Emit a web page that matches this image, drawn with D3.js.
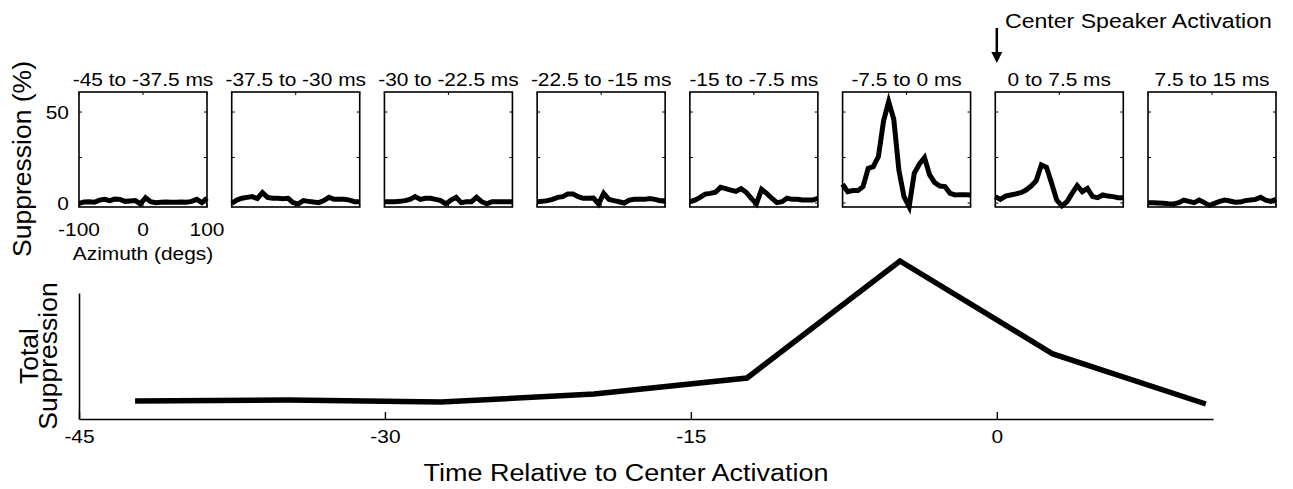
<!DOCTYPE html>
<html>
<head>
<meta charset="utf-8">
<script src="https://cdn.jsdelivr.net/npm/d3@7"></script>
<style>
  body { margin: 0; background: #fff; }
  text { font-family: "Liberation Sans", Arial, Helvetica, sans-serif; fill: #000; }
</style>
</head>
<body>
<div id="chart"></div>
<script>
// Time windows (one small panel each)
var windowLabels = ['-45 to -37.5 ms', '-37.5 to -30 ms', '-30 to -22.5 ms', '-22.5 to -15 ms',
                    '-15 to -7.5 ms', '-7.5 to 0 ms', '0 to 7.5 ms', '7.5 to 15 ms'];

// Azimuth samples (degs)
var azimuths = [-100, -92, -84, -76, -68, -60, -52, -44, -36, -28, -20, -12, -4,
                4, 12, 20, 28, 36, 44, 52, 60, 68, 76, 84, 92, 100];

// Suppression (%) per panel
var supp_45 = [-0.2, 0.5, 0.7, 0.4, 1.6, 2, 1.3, 2.2, 2, 0.9, 1.1, 1.3, -0.5,
               2.9, 0.7, 0.2, 0.4, 0.5, 0.4, 0.4, 0.5, 0.4, 0.9, 2, 0.2, 2.7];
var supp_37 = [-0.2, 1.6, 2.6, 3.1, 3.5, 2.4, 5.7, 3.1, 2.6, 2.6, 2.4, 2.6, 0.2,
               -0.5, 1.3, 0.9, 0.5, 0.2, 1.3, 3.1, 2, 2, 2, 1.6, 0.7, 0.7];
var supp_30 = [0.7, 0.7, 0.7, 0.9, 1.3, 2, 3.5, 2, 2.6, 2.6, 2, 1.3, -0.5,
               1.6, 3.1, 0.2, 0.7, 0.7, 3.1, 0.7, -0.5, 0.7, 0.7, 0.7, 0.7, 0.7];
var supp_22 = [0.7, 0.9, 1.3, 2, 3.1, 3.5, 5, 5, 3.5, 2.6, 2.6, 2.7, -0.5,
               5.3, 2, 1.3, 0.7, 0, 1.6, 2, 2, 2, 2.4, 2, 1.3, 1.3];
var supp_15 = [0.7, 1.6, 3.1, 4.9, 5.3, 5.9, 8.6, 7.9, 7.1, 6.4, 7.9, 5.9, 2.5,
               -0.5, 7.5, 5.3, 2.6, 0.2, 0.7, 2.6, 2, 2, 1.6, 1.6, 1.6, 2.6];
var supp_7 = [10.4, 6.2, 6.8, 6.8, 9, 19, 20, 25.5, 45, 55.7, 46, 18, 3.5,
              -2, 16.3, 21.4, 25, 15.4, 11.2, 9.3, 9, 5.3, 4.4, 4.6, 4.6, 4.4];
var supp0 = [3.5, 2, 3.8, 4.4, 5, 5.7, 7.1, 9.3, 12.3, 20.9, 19.6, 10.8, 1.6,
             -1.6, 0.7, 5.3, 9.5, 6.2, 8, 3.5, 2.9, 4.4, 3.8, 3.5, 2.9, 2.9];
var supp7 = [0.2, 0.2, 0, -0.2, -0.4, -0.5, 0.2, 1.6, 0.9, 0.2, 1.6, 0.2, -1.3,
             -0.2, 0.9, 1.6, 1.1, 0.4, 0.5, 1.3, 1.6, 2, 3.1, 1.6, 0.9, 2];
var panelValues = [supp_45, supp_37, supp_30, supp_22, supp_15, supp_7, supp0, supp7];

// Total suppression over time (arbitrary units)
var timePoints = [-42.25, -34.75, -27.25, -19.75, -12.25, -4.75, 2.75, 10.25];
var totalSuppression = [14.3, 15.1, 13.5, 19.8, 32.5, 125.4, 51.6, 11.9];

// Ticks
var timeTicks = [-45, -30, -15, 0];
var azimuthTicks = [-100, 0, 100];
var suppressionTicks = [0, 25, 50];
var suppressionLabels = [0, 50];

var width = 1293, height = 489;
var stretch = 'scale(1.1,1)';

var svg = d3.select('#chart').append('svg')
    .attr('width', width)
    .attr('height', height);

// ---- small panels ----
var panelW = 128, panelTop = 92, panelBottom = 207;

var panelX = d3.scalePoint()
    .domain(windowLabels)
    .range([79, 1148]);

var azX = d3.scaleLinear().domain([-100, 100]).range([0, panelW]);
var suppY = d3.scaleLinear().domain([-2.2, 61]).range([panelBottom, panelTop]);

var panelLine = d3.line()
    .x(d => azX(d[0]))
    .y(d => suppY(d[1]));

var panels = svg.selectAll('g.panel')
    .data(windowLabels)
    .enter()
    .append('g')
    .attr('class', 'panel')
    .attr('transform', d => 'translate(' + panelX(d) + ',0)');

panels.append('rect')
    .attr('x', 0)
    .attr('y', panelTop)
    .attr('width', panelW)
    .attr('height', panelBottom - panelTop)
    .attr('fill', 'none')
    .attr('stroke', 'black')
    .attr('stroke-width', 1.6);

// inward tick marks on all four sides
panels.each(function() {
    var g = d3.select(this);
    suppressionTicks.forEach(function(t) {
        g.append('line').attr('x1', 0).attr('x2', 3).attr('y1', suppY(t)).attr('y2', suppY(t))
            .attr('stroke', 'black').attr('stroke-width', 1);
        g.append('line').attr('x1', panelW - 3).attr('x2', panelW).attr('y1', suppY(t)).attr('y2', suppY(t))
            .attr('stroke', 'black').attr('stroke-width', 1);
    });
    azimuthTicks.forEach(function(t) {
        g.append('line').attr('x1', azX(t)).attr('x2', azX(t)).attr('y1', panelTop).attr('y2', panelTop + 3)
            .attr('stroke', 'black').attr('stroke-width', 1);
        g.append('line').attr('x1', azX(t)).attr('x2', azX(t)).attr('y1', panelBottom - 3).attr('y2', panelBottom)
            .attr('stroke', 'black').attr('stroke-width', 1);
    });
});

panels.append('path')
    .datum((d, i) => azimuths.map((a, j) => [a, panelValues[i][j]]))
    .attr('d', panelLine)
    .attr('fill', 'none')
    .attr('stroke', 'black')
    .attr('stroke-width', 5)
    .attr('stroke-linejoin', 'miter');

panels.append('text')
    .attr('transform', 'translate(' + panelW / 2 + ',86) ' + stretch)
    .attr('text-anchor', 'middle')
    .style('font-size', '19px')
    .text(d => d);

// tick labels on the first panel only
var first = panels.filter((d, i) => i === 0);
first.selectAll('text.ylab')
    .data(suppressionLabels)
    .enter()
    .append('text')
    .attr('class', 'ylab')
    .attr('transform', d => 'translate(-10,' + suppY(d) + ') ' + stretch)
    .attr('text-anchor', 'end')
    .attr('dy', '0.36em')
    .style('font-size', '19px')
    .text(d => d);

first.selectAll('text.xlab')
    .data(azimuthTicks)
    .enter()
    .append('text')
    .attr('class', 'xlab')
    .attr('transform', d => 'translate(' + azX(d) + ',236) ' + stretch)
    .attr('text-anchor', 'middle')
    .style('font-size', '19px')
    .text(d => d);

first.append('text')
    .attr('transform', 'translate(' + panelW / 2 + ',260) ' + stretch)
    .attr('text-anchor', 'middle')
    .style('font-size', '19px')
    .text('Azimuth (degs)');

svg.append('text')
    .attr('transform', 'translate(31,159) rotate(-90)')
    .attr('text-anchor', 'middle')
    .style('font-size', '26.5px')
    .text('Suppression (%)');

// ---- total suppression over time ----
var tX = d3.scaleLinear().domain([-45, 10.6]).range([79, 1213]);
var tY = d3.scaleLinear().domain([0, 100]).range([419, 293]);

var xAxis = svg.append('g')
    .attr('transform', 'translate(0,' + tY(0) + ')')
    .call(d3.axisBottom(tX).tickValues(timeTicks).tickFormat(d => String(d))
        .tickSizeInner(-7).tickSizeOuter(0).tickPadding(11));
xAxis.select('.domain').attr('stroke-width', 1.6);
xAxis.selectAll('.tick line').attr('stroke-width', 1.4);
xAxis.selectAll('.tick text')
    .attr('transform', stretch)
    .style('font-size', '19px')
    .style('font-family', '"Liberation Sans", Arial, sans-serif');

var yAxis = svg.append('g')
    .attr('transform', 'translate(' + tX(-45) + ',0)')
    .call(d3.axisLeft(tY).tickValues([]).tickSizeOuter(0));
yAxis.select('.domain').attr('stroke-width', 1.6);

var totalLine = d3.line()
    .x(d => tX(d[0]))
    .y(d => tY(d[1]));

svg.append('path')
    .datum(timePoints.map((t, i) => [t, totalSuppression[i]]))
    .attr('d', totalLine)
    .attr('fill', 'none')
    .attr('stroke', 'black')
    .attr('stroke-width', 5.5);

svg.append('text')
    .attr('transform', 'translate(626,481) ' + stretch)
    .attr('text-anchor', 'middle')
    .style('font-size', '24.5px')
    .text('Time Relative to Center Activation');

svg.append('text')
    .attr('transform', 'translate(38,356) rotate(-90)')
    .attr('text-anchor', 'middle')
    .style('font-size', '26.5px')
    .text('Total');
svg.append('text')
    .attr('transform', 'translate(57,356) rotate(-90)')
    .attr('text-anchor', 'middle')
    .style('font-size', '26.5px')
    .text('Suppression');

// ---- center speaker marker ----
var ax = tX(0);
svg.append('line')
    .attr('x1', ax).attr('x2', ax)
    .attr('y1', 28).attr('y2', 54)
    .attr('stroke', 'black')
    .attr('stroke-width', 2.5);
svg.append('path')
    .attr('d', 'M' + (ax - 5.5) + ',52L' + (ax + 5.5) + ',52L' + ax + ',63Z')
    .attr('fill', 'black');

svg.append('text')
    .attr('transform', 'translate(1005,28) ' + stretch)
    .style('font-size', '21px')
    .text('Center Speaker Activation');
</script>
</body>
</html>
